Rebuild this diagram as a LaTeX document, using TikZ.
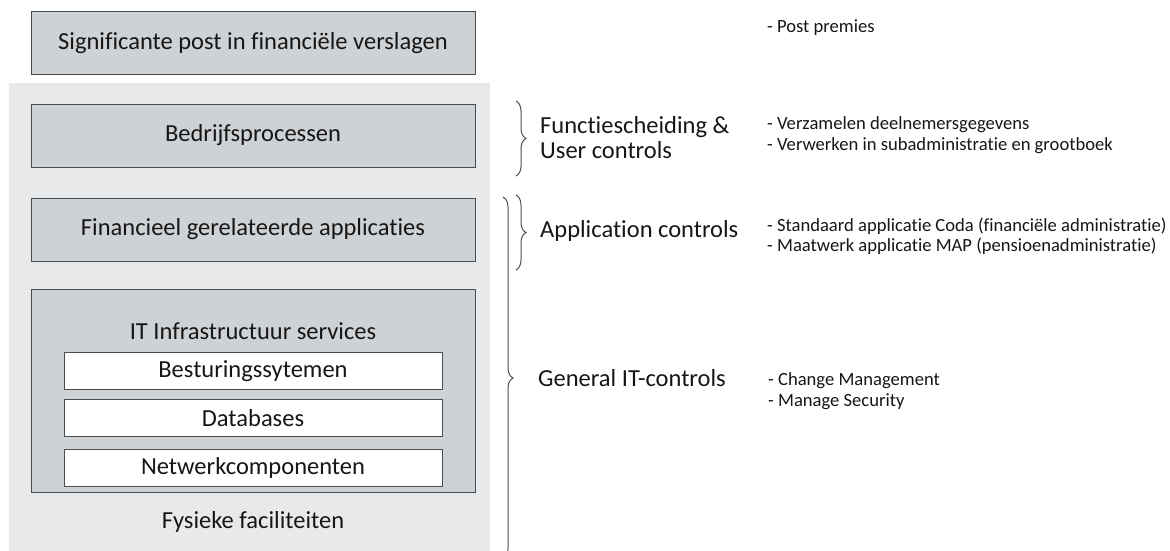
\documentclass[tikz,border=0pt]{standalone}
\usepackage{fontspec}
\setmainfont{Carlito}[Ligatures=NoCommon]
\usetikzlibrary{positioning}
\usetikzlibrary{decorations.pathreplacing}

\definecolor{laag}{RGB}{207,210,213}
\definecolor{paneel}{RGB}{232,233,235}
\definecolor{rand}{RGB}{72,77,82}
\definecolor{inkt}{RGB}{22,22,22}

\tikzset{
	laagbox/.style={draw=rand, fill=laag, line width=1pt, minimum width=444pt, minimum height=63pt, text=inkt, font=\fontsize{24.5}{26}\selectfont},
	compbox/.style={draw=rand, fill=white, line width=1pt, minimum width=378pt, minimum height=37pt, inner sep=0pt, text=inkt, font=\fontsize{24.5}{26}\selectfont},
	ctrl/.style={anchor=west, align=left, text=inkt, inner sep=0pt, font=\fontsize{24.5}{25}\selectfont},
	punt/.style={anchor=west, align=left, text=inkt, inner sep=0pt, font=\fontsize{18.6}{20.5}\selectfont},
	accolade/.style={draw=rand, line width=1pt, decorate, decoration={brace, amplitude=10pt}}
}

\begin{document}
\begin{tikzpicture}[x=1pt, y=-1pt]
		\useasboundingbox (0,0) rectangle (1170,551);
		% achtergrond voor de lagen onder de post
		\fill[paneel] (9,83) rectangle (490,551);

		\node (sig) [laagbox] at (253,43.5) {Significante post in financiële verslagen};
		\node (bp) [laagbox, below = 28pt of sig] {Bedrijfsprocessen};
		\node (fa) [laagbox, below = 30pt of bp] {Financieel gerelateerde applicaties};
		\node (it) [laagbox, below = 27pt of fa, minimum height=203pt] {};
		\node (itlbl) [text=inkt, font=\fontsize{24.5}{26}\selectfont] at ([yshift=-43pt]it.north) {IT Infrastructuur services};
		\node (os) [compbox] at ([yshift=-82.5pt]it.north) {Besturingssytemen};
		\node (db) [compbox, below = 9pt of os] {Databases};
		\node (nw) [compbox, below = 12pt of db] {Netwerkcomponenten};
		\node (fys) [text=inkt, font=\fontsize{24.5}{26}\selectfont] at (253,522) {Fysieke faciliteiten};

		% accolades met de soorten controls
		\coordinate (b1) at (516,101);
		\coordinate (e1) at (516,176);
		\coordinate (b2) at (516,195);
		\coordinate (e2) at (516,270);
		\coordinate (b3) at (503,197);
		\coordinate (e3) at (503,559);
		\draw[accolade] (b1) -- (e1);
		\draw[accolade] (b2) -- (e2);
		\draw[accolade] (b3) -- (e3);

		\node (fs) [ctrl] at (540,138) {Functiescheiding \&\\User controls};
		\node (ac) [ctrl] at (540,231) {Application controls};
		\node (gc) [ctrl] at (538,378) {General IT-controls};

		\node (pp) [punt] at (767,28) {- Post premies};
		\node (vz) [punt] at (767,135) {- Verzamelen deelnemersgegevens\\- Verwerken in subadministratie en grootboek};
		\node (sm) [punt] at (767,236) {- Standaard applicatie Coda (financiële administratie)\\- Maatwerk applicatie MAP (pensioenadministratie)};
		\node (cm) [punt] at (768,391) {- Change Management\\- Manage Security};
\end{tikzpicture}
\end{document}
